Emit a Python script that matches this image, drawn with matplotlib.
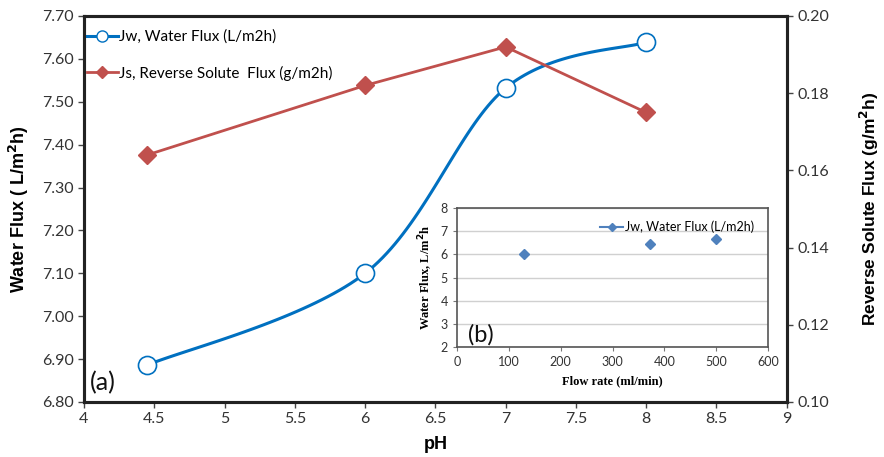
import numpy as np
import matplotlib
matplotlib.use("Agg")
import matplotlib.pyplot as plt
from matplotlib.lines import Line2D

# ---- data ----
ph = [4.45, 6.0, 7.0, 8.0]
jw = [6.886, 7.10, 7.532, 7.639]
js = [0.164, 0.182, 0.192, 0.175]

flow = [130, 373, 499]
jw_flow = [6.02, 6.45, 6.66]

xticks = [4, 4.5, 5, 5.5, 6, 6.5, 7, 7.5, 8, 8.5, 9]
xticklabels = ['4', '4.5', '5', '5.5', '6', '6.5', '7', '7.5', '8', '8.5', '9']

BLUE = '#0070C0'
RED = '#C0504D'
IBLUE = '#4F81BD'
FONT = 'Lato'

def smooth(xs, ys, xr, yr, n=40):
    # Excel-like smoothed line (Catmull-Rom Bezier) in normalized space
    px = (np.array(xs) - xr[0]) / (xr[1] - xr[0])
    py = (np.array(ys) - yr[0]) / (yr[1] - yr[0]) * 0.55
    P = np.column_stack([px, py])
    P = np.vstack([P[0], P, P[-1]])
    out = []
    for i in range(1, len(P) - 2):
        p0, p1, p2, p3 = P[i - 1], P[i], P[i + 1], P[i + 2]
        c1 = p1 + (p2 - p0) / 6
        c2 = p2 - (p3 - p1) / 6
        t = np.linspace(0, 1, n)[:, None]
        b = (1 - t) ** 3 * p1 + 3 * (1 - t) ** 2 * t * c1 + 3 * (1 - t) * t ** 2 * c2 + t ** 3 * p2
        out.append(b)
    B = np.vstack(out)
    bx = B[:, 0] * (xr[1] - xr[0]) + xr[0]
    by = B[:, 1] / 0.55 * (yr[1] - yr[0]) + yr[0]
    return bx, by

fig = plt.figure(figsize=(8.84, 4.57), dpi=100)
ax = fig.add_axes([0.095, 0.1204, 0.795, 0.8446])
ax2 = ax.twinx()

xr = (4, 9)
yr = (6.8, 7.7)
bx, by = smooth(ph, jw, xr, yr)
ax.plot(bx, by, color=BLUE, lw=2.2, zorder=3)
ax.plot(ph, jw, ls='none', marker='o', ms=13, mfc='white', mec=BLUE, mew=1.2, zorder=4)
ax.set_xlim(*xr)
ax.set_ylim(*yr)
ax.set_xticks(xticks)
ax.set_xticklabels(xticklabels)
ax.set_yticks(np.arange(6.8, 7.71, 0.1))
ax.set_yticklabels([f'{v:.2f}' for v in np.arange(6.8, 7.71, 0.1)])

ax2.plot(ph, js, color=RED, lw=2, marker='D', ms=9, mfc=RED, mec=RED, zorder=3)
ax2.set_ylim(0.10, 0.20)
ax2.set_yticks(np.arange(0.10, 0.201, 0.02))
ax2.set_yticklabels([f'{v:.2f}' for v in np.arange(0.10, 0.201, 0.02)])

for a in (ax, ax2):
    for s in a.spines.values():
        s.set_linewidth(2.2)
        s.set_color('#222222')
    a.tick_params(direction='out', length=4, width=1, colors='#444444', labelsize=11.5, labelcolor='#333333')
    for lab in a.get_xticklabels() + a.get_yticklabels():
        lab.set_fontfamily(FONT)

ax.set_xlabel('pH', fontsize=13, fontweight='bold', family='Liberation Sans', labelpad=7)
ax.set_ylabel('Water Flux ( L/m$^{\\mathbf{2}}$h)', fontsize=13, fontweight='bold', family='Liberation Sans', labelpad=8)
ax2.set_ylabel('Reverse Solute Flux (g/m$^{\\mathbf{2}}$h)', fontsize=12.5, fontweight='bold', family='Liberation Sans', labelpad=21)

h1 = Line2D([], [], color=BLUE, lw=2.2, marker='o', ms=8, mfc='white', mec=BLUE)
h2 = Line2D([], [], color=RED, lw=2, marker='D', ms=6, mfc=RED, mec=RED)
leg = ax.legend([h1, h2], ['Jw, Water Flux (L/m2h)', 'Js, Reverse Solute  Flux (g/m2h)'],
                loc='upper left', bbox_to_anchor=(-0.015, 1.0), frameon=False,
                handlelength=2.0, handletextpad=0.1, labelspacing=1.4,
                prop={'family': FONT, 'size': 11})
ax.text(0.008, 0.03, '(a)', transform=ax.transAxes, fontsize=18, family=FONT, color='#111111')

# ---- inset ----
ins = fig.add_axes([0.517, 0.2407, 0.352, 0.304])
ins.set_zorder(5)
ins.set_facecolor('white')
ins.plot(flow, jw_flow, ls='none', marker='D', ms=5, color=IBLUE, zorder=3)
ins.set_xlim(0, 600)
ins.set_ylim(2, 8)
ins.set_xticks(range(0, 601, 100))
ins.set_yticks(range(2, 9))
ins.grid(axis='y', color='#d0d0d0', lw=1)
ins.set_axisbelow(True)
for s in ins.spines.values():
    s.set_color('#555555')
    s.set_linewidth(1.2)
ins.tick_params(direction='out', length=3, width=0.8, colors='#777777', labelsize=9, labelcolor='#333333')
for lab in ins.get_xticklabels() + ins.get_yticklabels():
    lab.set_fontfamily(FONT)
ins.set_xlabel('Flow rate (ml/min)', fontsize=9, fontweight='bold', family='Liberation Serif', labelpad=5)
ins.set_ylabel('Water Flux, L/m$^{\\mathbf{2}}$h', fontsize=9, fontweight='bold', family='Liberation Serif', labelpad=4)
ih = Line2D([], [], color=IBLUE, lw=1.5, marker='D', ms=4)
ins.legend([ih], ['Jw, Water Flux (L/m2h)'], loc='upper right', bbox_to_anchor=(0.99, 0.99), frameon=False,
           handlelength=1.9, handletextpad=0.1, prop={'family': FONT, 'size': 9})
ins.text(0.035, 0.04, '(b)', transform=ins.transAxes, fontsize=17, family=FONT, color='#111111')

fig.savefig('out.png', dpi=100)
